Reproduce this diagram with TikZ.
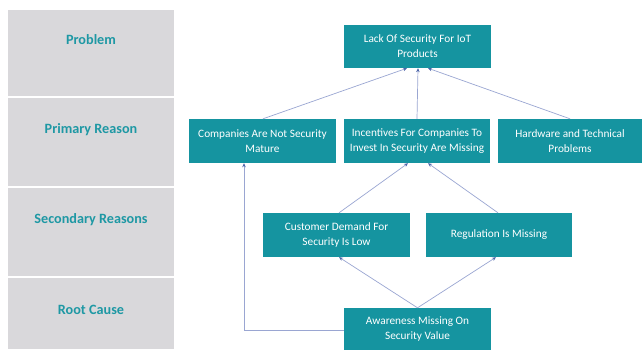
\documentclass[tikz,border=0pt]{standalone}
\usepackage{fontspec}
\setmainfont{Carlito}
\usetikzlibrary{arrows.meta}
\definecolor{panelgray}{HTML}{D9D8DB}
\definecolor{labteal}{HTML}{1E98A4}
\definecolor{boxteal}{HTML}{1594A0}
\definecolor{linecol}{HTML}{9AA6D2}
\definecolor{tipcol}{HTML}{4A63A8}
\begin{document}
\begin{tikzpicture}[x=1pt,y=-1pt,
  panel/.style={fill=panelgray,draw=none},
  rowlabel/.style={font=\fontsize{14.2}{16}\selectfont\bfseries,text=labteal},
  tbox/.style={fill=boxteal,draw=none,text=white,align=center,
    font=\fontsize{11.3}{15}\selectfont,inner sep=0pt},
  conn/.style={draw=linecol,line width=0.7pt,-{Stealth[length=4pt,width=3.5pt,color=tipcol]}}
]
\useasboundingbox (0,0) rectangle (642,349);
\fill[white] (0,0) rectangle (642,349);
% left panels
\fill[panel] (8,10) rectangle (174,96);
\fill[panel] (8,98) rectangle (174,186);
\fill[panel] (8,188) rectangle (174,276);
\fill[panel] (8,278) rectangle (174,349);
\node[rowlabel] (lp) at (91,40) {Problem};
\node[rowlabel] (lpr) at (91,130) {Primary Reason};
\node[rowlabel] (ls) at (91,220) {Secondary Reasons};
\node[rowlabel] (lr) at (91,310) {Root Cause};
% boxes
\node[tbox,minimum width=147pt,minimum height=43pt] (top) at (417.5,46.5) {Lack Of Security For IoT\\Products};
\node[tbox,minimum width=147pt,minimum height=44pt] (comp) at (262.5,141) {Companies Are Not Security\\Mature};
\node[tbox,minimum width=146pt,minimum height=44pt] (inc) at (417,141) {Incentives For Companies To\\Invest In Security Are Missing};
\node[tbox,minimum width=144pt,minimum height=44pt] (hw) at (570,141) {Hardware and Technical\\Problems};
\node[tbox,minimum width=147pt,minimum height=44pt] (cust) at (336.5,235) {Customer Demand For\\Security Is Low};
\node[tbox,minimum width=146pt,minimum height=44pt] (reg) at (499,235) {Regulation Is Missing};
\node[tbox,minimum width=147pt,minimum height=42pt] (aw) at (417.5,329) {Awareness Missing On\\Security Value};
% connectors
\draw[conn] ([xshift=0.5pt]comp.north) -- ([xshift=-10.5pt]top.south);
\draw[conn] (inc.north) -- ([xshift=0.5pt]top.south);
\draw[conn] (hw.north) -- ([xshift=10.5pt]top.south);
\draw[conn] ([xshift=2.5pt]cust.north) -- ([xshift=-9pt]inc.south);
\draw[conn] ([xshift=-1pt]reg.north) -- ([xshift=11pt]inc.south);
\draw[conn] (aw.north) -- ([xshift=2.5pt]cust.south);
\draw[conn] (aw.north) -- ([xshift=-3pt]reg.south);
\coordinate (bend) at (244,330);
\draw[conn] (aw.west |- bend) -- (bend) -- (bend |- comp.south);
\end{tikzpicture}
\end{document}
